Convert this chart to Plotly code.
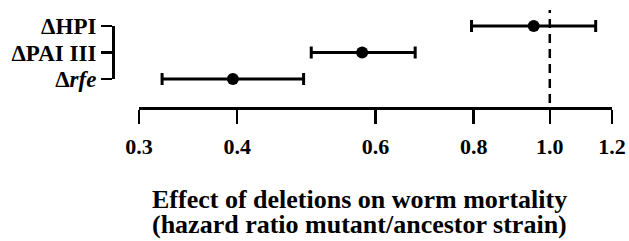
import math
import plotly.graph_objects as go

# ---- data ----
strains = ["ΔHPI", "ΔPAI III", "Δrfe"]
strain_labels = ["ΔHPI", "ΔPAI III", "Δ<i>rfe</i>"]
hazard_ratio = [0.954, 0.577, 0.395]
ci_low = [0.795, 0.497, 0.321]
ci_high = [1.144, 0.674, 0.486]
x_tick_vals = [0.3, 0.4, 0.6, 0.8, 1.0, 1.2]
x_tick_text = ["0.3", "0.4", "0.6", "0.8", "1.0", "1.2"]
reference_ratio = 1.0
title_lines = ["Effect of deletions on worm mortality",
               "(hazard ratio mutant/ancestor strain)"]

W, H = 629, 241
ML, MR = 100, 9
PW = W - ML - MR

def px_x(p):
    return (p - ML) / PW

def px_y(p):
    return 1 - p / H

FONT = "Liberation Serif, Times New Roman, Times, serif"
ROW_TOP, ROW_BOT = 26, 79
step = (ROW_BOT - ROW_TOP) / (len(strains) - 1)
PADU = 0.6  # extra category units around the data axis so bars are not clipped

fig = go.Figure()
# data trace on the (hidden, padded) data axis
fig.add_trace(go.Scatter(
    x=hazard_ratio, y=strains, mode="markers",
    marker=dict(color="black", size=12),
    error_x=dict(type="data",
                 array=[h - m for h, m in zip(ci_high, hazard_ratio)],
                 arrayminus=[m - l for m, l in zip(hazard_ratio, ci_low)],
                 color="black", thickness=3, width=6),
    cliponaxis=False, showlegend=False, hoverinfo="skip",
))
# invisible trace so that the bracket axis is drawn
fig.add_trace(go.Scatter(
    x=hazard_ratio, y=strains, yaxis="y2", mode="markers",
    marker=dict(opacity=0), showlegend=False, hoverinfo="skip",
))

fig.add_shape(type="line", xref="x", yref="paper",
              x0=reference_ratio, x1=reference_ratio,
              y0=px_y(103), y1=px_y(10),
              line=dict(color="black", width=2.5, dash="9px,6px"))

fig.update_layout(
    template="none",
    width=W, height=H, autosize=False,
    margin=dict(l=ML, r=MR, t=0, b=0, pad=0, autoexpand=False),
    paper_bgcolor="white", plot_bgcolor="rgba(0,0,0,0)",
    font=dict(family=FONT, size=21, color="black", weight="bold"),
    xaxis=dict(
        type="log",
        range=[math.log10(x_tick_vals[0]), math.log10(x_tick_vals[-1])],
        domain=[px_x(139), px_x(612)],
        anchor="free", position=px_y(108), automargin=False,
        showline=True, linecolor="black", linewidth=2.5,
        ticks="outside", ticklen=14, tickwidth=2.5, tickcolor="black",
        tickvals=x_tick_vals, ticktext=x_tick_text, ticklabelstandoff=4,
        tickfont=dict(family=FONT, size=22, color="black", weight="bold"),
        showgrid=False, zeroline=False,
    ),
    yaxis=dict(
        type="category",
        categoryorder="array", categoryarray=strains[::-1],
        range=[-PADU, len(strains) - 1 + PADU],
        domain=[px_y(ROW_BOT + PADU * step), px_y(ROW_TOP - PADU * step)],
        anchor="free", position=px_x(113), automargin=False,
        showline=False, ticks="", showticklabels=False,
        showgrid=False, zeroline=False,
    ),
    yaxis2=dict(
        type="category",
        categoryorder="array", categoryarray=strains[::-1],
        range=[0, len(strains) - 1],
        domain=[px_y(ROW_BOT), px_y(ROW_TOP)],
        anchor="free", position=px_x(113), automargin=False,
        showline=True, linecolor="black", linewidth=2.5,
        ticks="outside", ticklen=11, tickwidth=2.5, tickcolor="black",
        tickvals=strains, ticktext=strain_labels,
        tickfont=dict(family=FONT, size=23, color="black", weight="bold"),
        showgrid=False, zeroline=False,
    ),
)

for line, yc in zip(title_lines, [199, 224]):
    fig.add_annotation(text=line, xref="paper", yref="paper",
                       x=px_x(359), y=px_y(yc), xanchor="center", yanchor="middle",
                       showarrow=False,
                       font=dict(family=FONT, size=26, color="black", weight="bold"))

fig.write_html(
    "out.html",
    config={"displayModeBar": False, "staticPlot": True},
    post_script="document.body.style.margin='0';document.body.style.overflow='hidden';",
)
